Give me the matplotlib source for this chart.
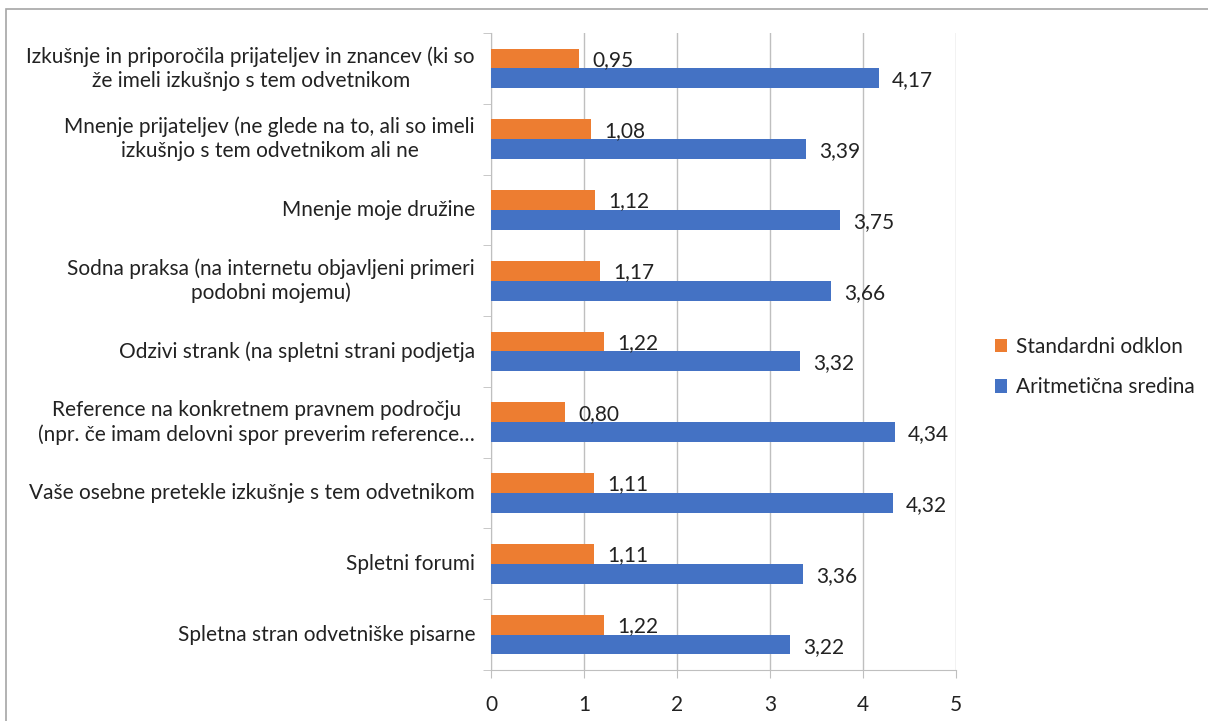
import matplotlib.pyplot as plt
from matplotlib.patches import Rectangle
import numpy as np

plt.rcParams['font.family'] = ['Lato', 'DejaVu Sans']

categories = [
    "Izkušnje in priporočila prijateljev in znancev (ki so\nže imeli izkušnjo s tem odvetnikom",
    "Mnenje prijateljev (ne glede na to, ali so imeli\nizkušnjo s tem odvetnikom ali ne",
    "Mnenje moje družine",
    "Sodna praksa (na internetu objavljeni primeri\npodobni mojemu)",
    "Odzivi strank (na spletni strani podjetja",
    "Reference na konkretnem pravnem področju\n(npr. če imam delovni spor preverim reference…",
    "Vaše osebne pretekle izkušnje s tem odvetnikom",
    "Spletni forumi",
    "Spletna stran odvetniške pisarne",
]
std_dev = [0.95, 1.08, 1.12, 1.17, 1.22, 0.80, 1.11, 1.11, 1.22]
mean = [4.17, 3.39, 3.75, 3.66, 3.32, 4.34, 4.32, 3.36, 3.22]
series_names = ["Standardni odklon", "Aritmetična sredina"]
xticks = [0, 1, 2, 3, 4, 5]

orange = '#ED7D31'
blue = '#4472C4'
grid_c = '#BFBFBF'
text_c = '#222222'
fs = 15

fig = plt.figure(figsize=(12.08, 7.21), dpi=100)
ax = fig.add_axes([491 / 1208, 1 - 670 / 721, (956 - 491) / 1208, (670 - 33) / 721])

n = len(categories)
y = np.arange(n)
h = 0.28
ax.barh(y - h / 2, std_dev, height=h, color=orange, label=series_names[0], zorder=3)
ax.barh(y + h / 2, mean, height=h, color=blue, label=series_names[1], zorder=3)

for yi, v in zip(y, std_dev):
    ax.text(v + 0.14, yi - h / 2 + 0.02, f"{v:.2f}".replace('.', ','), va='center',
            ha='left', fontsize=fs, color=text_c)
for yi, v in zip(y, mean):
    ax.text(v + 0.14, yi + h / 2 + 0.03, f"{v:.2f}".replace('.', ','), va='center',
            ha='left', fontsize=fs, color=text_c)

ax.set_ylim(n - 0.5, -0.5)
ax.set_xlim(0, 5)
ax.set_xticks(xticks)
ax.set_xticklabels([str(t) for t in xticks], fontsize=fs, color=text_c)
ax.set_yticks(y)
ax.set_yticklabels([])
ax.set_yticks(np.arange(n + 1) - 0.5, minor=True)
ax.tick_params(axis='y', which='major', length=0)
ax.tick_params(axis='y', which='minor', length=6, color=grid_c, direction='out')
ax.tick_params(axis='x', length=6, color=grid_c, direction='out', pad=12)

for yi, lab in zip(y, categories):
    ax.text(-0.16, yi, lab, ha='center', va='center', fontsize=fs, color=text_c,
            multialignment='center', transform=ax.get_yaxis_transform(), linespacing=1.25)

ax.grid(axis='x', color=grid_c, linewidth=1, zorder=0)
for s in ['top', 'right']:
    ax.spines[s].set_visible(False)
ax.spines['left'].set_color(grid_c)
ax.spines['bottom'].set_color(grid_c)

# move category text so its right edge sits ~16px left of axis
fig.canvas.draw()
r = fig.canvas.get_renderer()
for t in ax.texts[2 * n:]:
    bb = t.get_window_extent(r)
    cx_pix = 475 - bb.width / 2
    x_ax = (cx_pix - ax.bbox.x0) / ax.bbox.width
    t.set_x(x_ax)

ax.legend(loc='center left', bbox_to_anchor=(976 / 1208, 1 - 367 / 721), bbox_transform=fig.transFigure,
          frameon=False, fontsize=fs, handlelength=0.6, handleheight=0.6,
          labelspacing=1.0, handletextpad=0.4, labelcolor=text_c)

fig.patches.append(Rectangle((6 / 1208, -0.05), 1.1, 1 - 9 / 721 + 0.05, transform=fig.transFigure,
                             fill=False, edgecolor='#A6A6A6', linewidth=1.2))

fig.savefig('out.png', dpi=100)
